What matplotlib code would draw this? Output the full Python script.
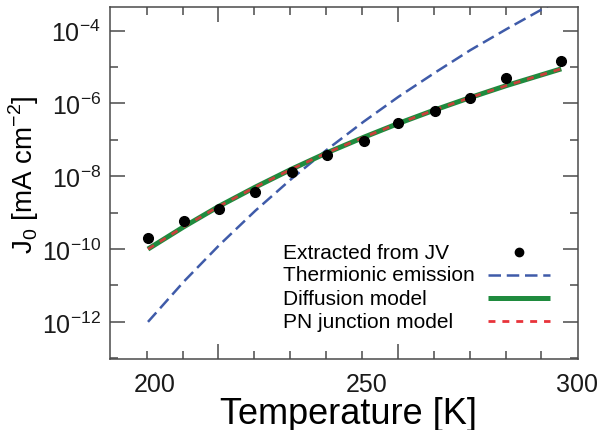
import numpy as np
import matplotlib
matplotlib.use('Agg')
import matplotlib.pyplot as plt
from matplotlib import font_manager
from matplotlib.ticker import FixedLocator, NullFormatter

# data
temp = [198.3, 206.9, 215.2, 223.7, 232.4, 240.8, 249.4, 257.6, 266.2, 274.6, 283.2, 296.2]
j0_jv = [2.0e-10, 5.9e-10, 1.3e-9, 3.6e-9, 1.3e-8, 3.85e-8, 9.5e-8, 2.9e-7, 6.3e-7, 1.4e-6, 4.9e-6, 1.47e-5]

# model curves, log10(J0) at the same temperatures
log_thermionic = [-12.0, -10.88, -9.89, -8.95, -8.06, -7.26, -6.50, -5.82, -5.16, -4.54, -3.96, -3.12]
log_diffusion = [-10.0, -9.38, -8.82, -8.30, -7.80, -7.35, -6.93, -6.55, -6.18, -5.84, -5.51, -5.05]
log_pn = [-10.0, -9.38, -8.82, -8.30, -7.80, -7.35, -6.93, -6.55, -6.18, -5.84, -5.51, -5.05]

x_label_vals = [200, 250, 300]
x_major_marks = [215.0, 257.5]
x_minor_marks = [198.0, 206.5, 223.5, 232.0, 240.5, 249.0, 266.0, 274.5, 283.0, 291.5]
y_major_exp = [-12, -10, -8, -6, -4]
y_minor_exp = [-13, -11, -9, -7, -5]

legend_labels = ['Extracted from JV', 'Thermionic emission', 'Diffusion model', 'PN junction model']

names = {f.name for f in font_manager.fontManager.ttflist}
tick_font = 'Liberation Sans Narrow' if 'Liberation Sans Narrow' in names else 'Liberation Sans'
tick_size = 21 if tick_font == 'Liberation Sans Narrow' else 18
plt.rcParams['font.family'] = ['Liberation Sans', 'DejaVu Sans']

blue = '#3f5ba9'
green = '#1f8b3e'
red = '#e8333a'
spine_col = '#4a4a4a'

fig = plt.figure(figsize=(6.01, 4.31), dpi=100)
ax = fig.add_axes([0.183, 0.1647, 0.779, 0.816])

ax.plot(temp, 10.0 ** np.array(log_thermionic), color=blue, lw=1.8, ls=(0, (5, 2.3)))
ax.plot(temp, 10.0 ** np.array(log_diffusion), color=green, lw=3.6, solid_capstyle='butt')
ax.plot(temp, 10.0 ** np.array(log_pn), color=red, lw=2.0, ls=(0, (2.5, 2.5)), alpha=0.85)
ax.plot(temp, j0_jv, 'o', color='black', ms=7)

ax.set_yscale('log')
ax.set_xlim(189.3, 300.2)
ax.set_ylim(10 ** -13.02, 10 ** -3.36)

# tick marks
ax.xaxis.set_major_locator(FixedLocator(x_major_marks))
ax.xaxis.set_minor_locator(FixedLocator(x_minor_marks))
ax.xaxis.set_major_formatter(NullFormatter())
ax.xaxis.set_minor_formatter(NullFormatter())
ax.set_yticks([10.0 ** e for e in y_major_exp],
              [r'$\mathregular{10^{%d}}$' % e for e in y_major_exp],
              fontfamily=tick_font, fontsize=tick_size)
ax.yaxis.set_minor_locator(FixedLocator([10.0 ** e for e in y_minor_exp]))
ax.yaxis.set_minor_formatter(NullFormatter())
ax.tick_params(which='both', direction='in', top=True, right=True, color=spine_col, width=1.1)
ax.tick_params(which='major', length=10.5)
ax.tick_params(which='minor', length=6)
ax.tick_params(axis='y', which='major', pad=6.5, labelcolor='#1a1a1a')

for s in ax.spines.values():
    s.set_color(spine_col)
    s.set_linewidth(1.1)

# x tick labels sit on their own axis
sec = ax.secondary_xaxis('bottom')
sec.set_xticks(x_label_vals, [str(v) for v in x_label_vals], fontfamily=tick_font, fontsize=tick_size)
sec.tick_params(length=0, pad=9.0, labelcolor='#1a1a1a')
sec.spines['bottom'].set_visible(False)

ax.set_xlabel('Temperature [K]', fontsize=26)
ax.xaxis.set_label_coords(0.509, -0.105)
ax.set_ylabel(r'J$_\mathregular{0}$ [mA cm$^\mathregular{-2}$]', fontsize=20)
ax.yaxis.set_label_coords(-0.148, 0.526)

# legend, drawn by hand: labels on the left, samples on the right
leg_y = [0.304, 0.239, 0.173, 0.108]
for yy, lab in zip(leg_y, legend_labels):
    ax.text(0.370, yy, lab, transform=ax.transAxes, fontsize=15, ha='left', va='center')
ax.plot([0.874], [leg_y[0]], 'o', color='black', ms=6, transform=ax.transAxes)
ax.plot([0.808, 0.940], [leg_y[1]] * 2, color=blue, lw=1.8, ls=(0, (5, 2.3)), transform=ax.transAxes)
ax.plot([0.808, 0.940], [leg_y[2]] * 2, color=green, lw=3.6, solid_capstyle='butt', transform=ax.transAxes)
ax.plot([0.808, 0.940], [leg_y[3]] * 2, color=red, lw=2.0, ls=(0, (2.5, 2.5)), transform=ax.transAxes)

fig.savefig('out.png', dpi=100)
